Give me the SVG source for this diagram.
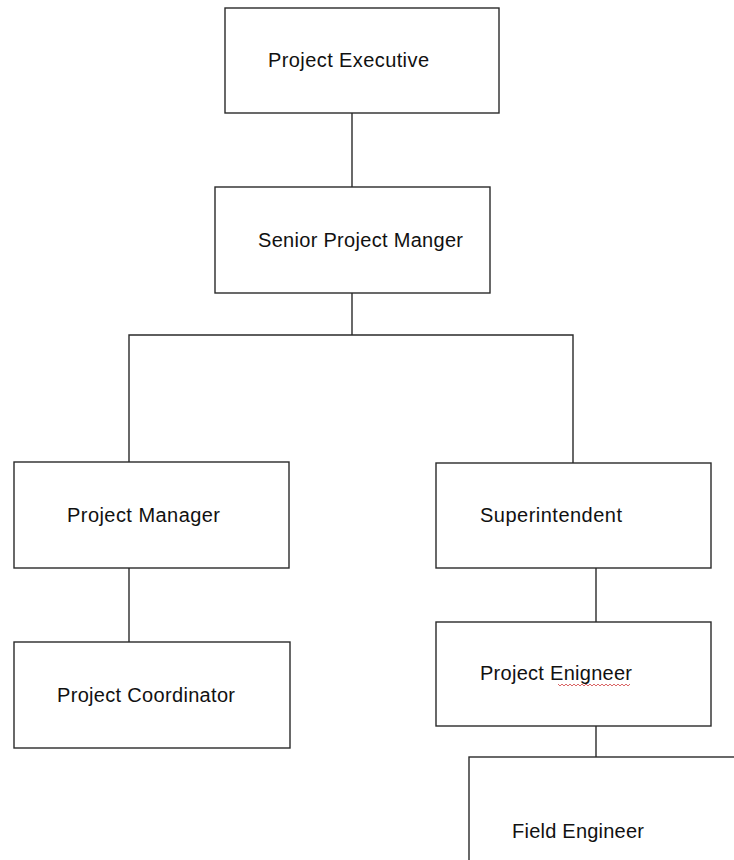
<svg xmlns="http://www.w3.org/2000/svg" width="734" height="860" viewBox="0 0 734 860">
<style>
.box{fill:#ffffff;stroke:#2a2a2a;stroke-width:1.4}
.lbl{font-family:"Liberation Sans",Arial,sans-serif;font-size:20px;fill:#111111}
.con{fill:none;stroke:#2a2a2a;stroke-width:1.4}
</style>
<rect x="0" y="0" width="734" height="860" fill="#ffffff"/>
<g id="connectors">
<line class="con" x1="352" y1="113" x2="352" y2="187"/>
<polyline class="con" points="352,293 352,335"/>
<polyline class="con" points="129,462 129,335 573,335 573,463"/>
<line class="con" x1="129" y1="568" x2="129" y2="642"/>
<line class="con" x1="596" y1="568" x2="596" y2="622"/>
<line class="con" x1="596" y1="726" x2="596" y2="757"/>
</g>
<g id="project-executive">
<rect class="box" x="225" y="8" width="274" height="105"/>
<text class="lbl" x="268" y="67" textLength="161" lengthAdjust="spacing">Project Executive</text>
</g>
<g id="senior-project-manager">
<rect class="box" x="215" y="187" width="275" height="106"/>
<text class="lbl" x="258" y="247" textLength="205" lengthAdjust="spacing">Senior Project Manger</text>
</g>
<g id="project-manager">
<rect class="box" x="14" y="462" width="275" height="106"/>
<text class="lbl" x="67" y="522" textLength="153" lengthAdjust="spacing">Project Manager</text>
</g>
<g id="superintendent">
<rect class="box" x="436" y="463" width="275" height="105"/>
<text class="lbl" x="480" y="522" textLength="142" lengthAdjust="spacing">Superintendent</text>
</g>
<g id="project-coordinator">
<rect class="box" x="14" y="642" width="276" height="106"/>
<text class="lbl" x="57" y="702" textLength="178" lengthAdjust="spacing">Project Coordinator</text>
</g>
<g id="project-engineer">
<rect class="box" x="436" y="622" width="275" height="104"/>
<text class="lbl" x="480" y="680" textLength="152" lengthAdjust="spacing">Project Enigneer</text>
<path d="M558,684 l2,2 l2,-2 l2,2 l2,-2 l2,2 l2,-2 l2,2 l2,-2 l2,2 l2,-2 l2,2 l2,-2 l2,2 l2,-2 l2,2 l2,-2 l2,2 l2,-2 l2,2 l2,-2 l2,2 l2,-2 l2,2 l2,-2 l2,2 l2,-2 l2,2 l2,-2 l2,2 l2,-2 l2,2 l2,-2 l2,2 l2,-2 l2,2 l2,-2" fill="none" stroke="#d04040" stroke-width="0.8"/>
</g>
<g id="field-engineer">
<rect class="box" x="469" y="757" width="280" height="120"/>
<text class="lbl" x="512" y="838" textLength="132" lengthAdjust="spacing">Field Engineer</text>
</g>
</svg>
